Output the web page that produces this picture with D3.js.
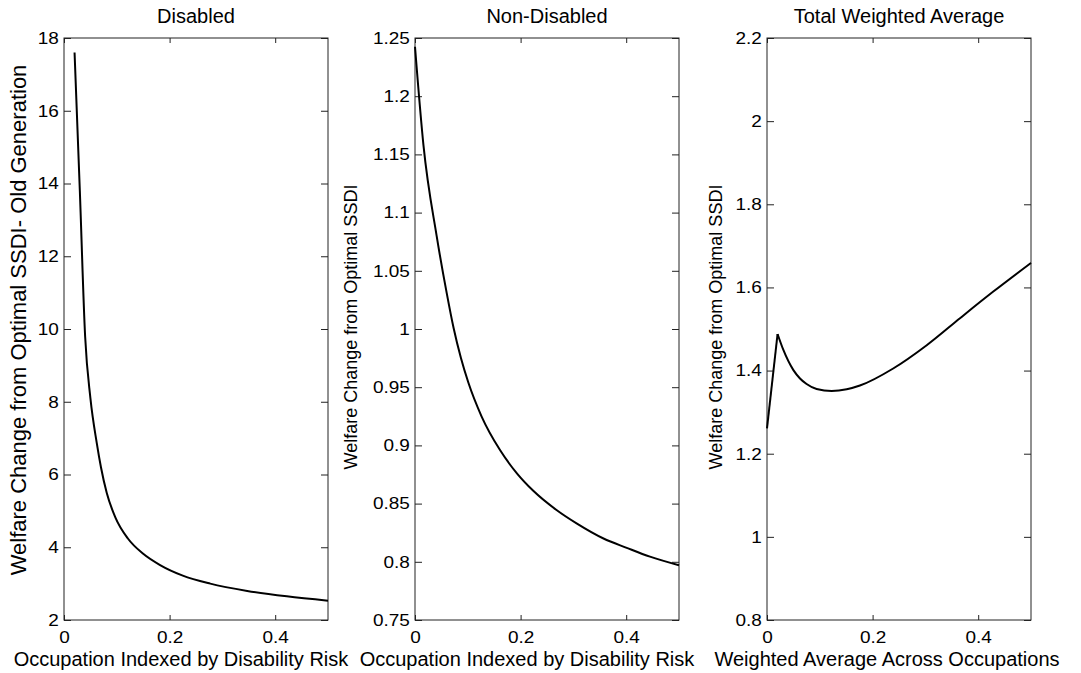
<!DOCTYPE html>
<html>
<head>
<meta charset="utf-8">
<script src="https://cdn.jsdelivr.net/npm/d3@7"></script>
<style>
  body { margin: 0; background: #fff; }
  svg { display: block; font-family: "Liberation Sans", Arial, sans-serif; }
</style>
</head>
<body>
<div id="chart"></div>
<script>
// values
const disabledX = [0.02, 0.03, 0.04, 0.05, 0.062, 0.07, 0.081, 0.097, 0.121, 0.150, 0.182, 0.225, 0.277, 0.347, 0.422, 0.5];
const disabledY = [17.6, 13.8, 9.8, 8.1, 6.87, 6.2, 5.49, 4.83, 4.24, 3.82, 3.51, 3.22, 3.00, 2.80, 2.65, 2.53];

const nonDisabledX = [0, 0.016, 0.041, 0.06, 0.073, 0.087, 0.101, 0.126, 0.161, 0.193, 0.224, 0.268, 0.306, 0.357, 0.401, 0.445, 0.5];
const nonDisabledY = [1.2425, 1.158, 1.080, 1.031, 1.001, 0.975, 0.954, 0.925, 0.896, 0.876, 0.861, 0.8445, 0.833, 0.820, 0.812, 0.8044, 0.797];

const totalX = [0, 0.02, 0.031, 0.05, 0.0625, 0.075, 0.094, 0.1225, 0.151, 0.176, 0.239, 0.3025, 0.3655, 0.4286, 0.5];
const totalY = [1.261, 1.488, 1.4495, 1.401, 1.381, 1.3677, 1.3557, 1.351, 1.355, 1.364, 1.405, 1.461, 1.526, 1.590, 1.659];

const xTicks = [0, 0.2, 0.4];
const disabledTicks = [2, 4, 6, 8, 10, 12, 14, 16, 18];
const nonDisabledTicks = [0.75, 0.8, 0.85, 0.9, 0.95, 1, 1.05, 1.1, 1.15, 1.2, 1.25];
const totalTicks = [0.8, 1, 1.2, 1.4, 1.6, 1.8, 2, 2.2];

const panels = [
  { title: 'Disabled', xs: disabledX, ys: disabledY, yDomain: [2, 18], yTicks: disabledTicks,
    left: 64, right: 328, xLabel: 'Occupation Indexed by Disability Risk', xLabelX: 181,
    yLabel: 'Welfare Change from Optimal SSDI- Old Generation', yLabelX: 26, yLabelY: 320, yLabelSize: 22,
    sharpAt: 0 },
  { title: 'Non-Disabled', xs: nonDisabledX, ys: nonDisabledY, yDomain: [0.75, 1.25], yTicks: nonDisabledTicks,
    left: 415, right: 679, xLabel: 'Occupation Indexed by Disability Risk', xLabelX: 527,
    yLabel: 'Welfare Change from Optimal SSDI', yLabelX: 357, yLabelY: 327, yLabelSize: 18,
    sharpAt: 0 },
  { title: 'Total Weighted Average', xs: totalX, ys: totalY, yDomain: [0.8, 2.2], yTicks: totalTicks,
    left: 767, right: 1031, xLabel: 'Weighted Average Across Occupations', xLabelX: 887,
    yLabel: 'Welfare Change from Optimal SSDI', yLabelX: 722, yLabelY: 327, yLabelSize: 18,
    sharpAt: 1 }
];

const width = 1081, height = 673;
const axTop = 38, axBottom = 620;

const svg = d3.select('#chart').append('svg')
  .attr('width', width)
  .attr('height', height);

panels.forEach(p => {
  const x = d3.scaleLinear().domain([0, 0.5]).range([p.left, p.right]);
  const y = d3.scaleLinear().domain(p.yDomain).range([axBottom, axTop]);
  const g = svg.append('g');

  // ticks inside the box on all four sides
  g.append('g')
    .attr('transform', `translate(0,${axBottom})`)
    .call(d3.axisBottom(x).tickValues(xTicks).tickSize(-5).tickPadding(11).tickFormat(d3.format('')));
  g.append('g')
    .attr('transform', `translate(0,${axTop})`)
    .call(d3.axisTop(x).tickValues(xTicks).tickSize(-5).tickFormat(''));
  g.append('g')
    .attr('transform', `translate(${p.left},0)`)
    .call(d3.axisLeft(y).tickValues(p.yTicks).tickSize(-7).tickPadding(4.5).tickFormat(d3.format('')));
  g.append('g')
    .attr('transform', `translate(${p.right},0)`)
    .call(d3.axisRight(y).tickValues(p.yTicks).tickSize(-7).tickFormat(''));

  g.selectAll('.domain').remove();
  g.selectAll('.tick line').attr('stroke', '#222');
  // the reference digits are a little wider than plain Arial
  g.selectAll('.tick text').attr('font-size', 16.5).attr('fill', '#000')
    .attr('font-family', '"Liberation Sans", Arial, sans-serif')
    .attr('transform', 'scale(1.15,1)');

  g.append('rect')
    .attr('x', p.left).attr('y', axTop)
    .attr('width', p.right - p.left).attr('height', axBottom - axTop)
    .attr('fill', 'none').attr('stroke', '#222').attr('stroke-width', 1);

  // straight segment up to the kink, smooth curve after it
  const pts = d3.zip(p.xs, p.ys);
  const straight = d3.line().x(d => x(d[0])).y(d => y(d[1]));
  const smooth = d3.line().x(d => x(d[0])).y(d => y(d[1])).curve(d3.curveMonotoneX);
  if (p.sharpAt > 0) {
    g.append('path')
      .datum(pts.slice(0, p.sharpAt + 1))
      .attr('d', straight)
      .attr('fill', 'none').attr('stroke', '#000').attr('stroke-width', 2)
      .attr('stroke-linejoin', 'round');
  }
  g.append('path')
    .datum(pts.slice(p.sharpAt))
    .attr('d', smooth)
    .attr('fill', 'none').attr('stroke', '#000').attr('stroke-width', 2)
    .attr('stroke-linejoin', 'round');

  g.append('text')
    .attr('x', (p.left + p.right) / 2).attr('y', 23)
    .attr('text-anchor', 'middle').attr('font-size', 20)
    .text(p.title);

  g.append('text')
    .attr('x', p.xLabelX).attr('y', 666)
    .attr('text-anchor', 'middle').attr('font-size', 20)
    .text(p.xLabel);

  g.append('text')
    .attr('transform', `translate(${p.yLabelX},${p.yLabelY}) rotate(-90)`)
    .attr('text-anchor', 'middle').attr('font-size', p.yLabelSize)
    .text(p.yLabel);
});
</script>
</body>
</html>
